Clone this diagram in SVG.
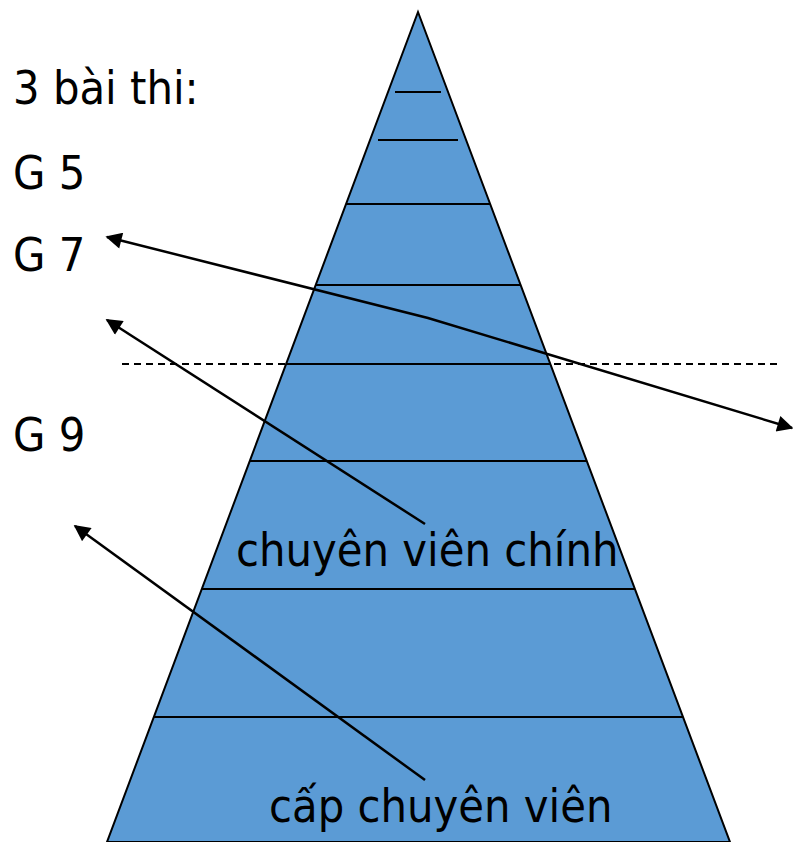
<svg xmlns="http://www.w3.org/2000/svg" width="793" height="842" viewBox="0 0 793 842">
<style>
.t{font-family:"DejaVu Sans Condensed","DejaVu Sans",sans-serif;font-stretch:condensed;font-size:46.5px;fill:#000}
.ln{stroke:#000;stroke-width:2;fill:none}
.ar{stroke:#000;stroke-width:2.5;fill:none;marker-end:url(#ah)}
</style>
<defs>
<marker id="ah" viewBox="0 0 10 10" refX="9" refY="5" markerWidth="7" markerHeight="6.5" markerUnits="strokeWidth" orient="auto-start-reverse">
<path d="M0,0 L10,5 L0,10 z" fill="#000"/>
</marker>
</defs>
<rect width="793" height="842" fill="#fff"/>
<g id="pyramid">
<polygon points="418,12 730,842 107,842" fill="#5B9BD5" stroke="#000" stroke-width="2"/>
<line class="ln" x1="395" y1="92" x2="441" y2="92"/>
<line class="ln" x1="378" y1="140" x2="458" y2="140"/>
<line class="ln" x1="346" y1="204" x2="490" y2="204"/>
<line class="ln" x1="316" y1="285" x2="521" y2="285"/>
<line class="ln" x1="286" y1="364" x2="550" y2="364"/>
<line class="ln" x1="250" y1="461" x2="587" y2="461"/>
<line class="ln" x1="202" y1="589" x2="635" y2="589"/>
<line class="ln" x1="154" y1="717" x2="683" y2="717"/>
</g>
<g id="dashed">
<line x1="122" y1="364" x2="778" y2="364" stroke="#000" stroke-width="1.8" stroke-dasharray="7,5"/>
</g>
<g id="labels">
<text class="t" x="13" y="104">3 bài thi:</text>
<text class="t" x="13" y="189">G 5</text>
<text class="t" x="13" y="271">G 7</text>
<text class="t" x="13" y="451">G 9</text>
<text class="t" x="236" y="566">chuyên viên chính</text>
<text class="t" x="269" y="822">cấp chuyên viên</text>
</g>
<g id="connectors">
<polyline class="ar" style="marker-start:url(#ah)" points="107,237 428,318 792,428"/>
<line class="ar" x1="425" y1="524" x2="107" y2="320"/>
<line class="ar" x1="425" y1="780" x2="75" y2="526"/>
</g>
</svg>
